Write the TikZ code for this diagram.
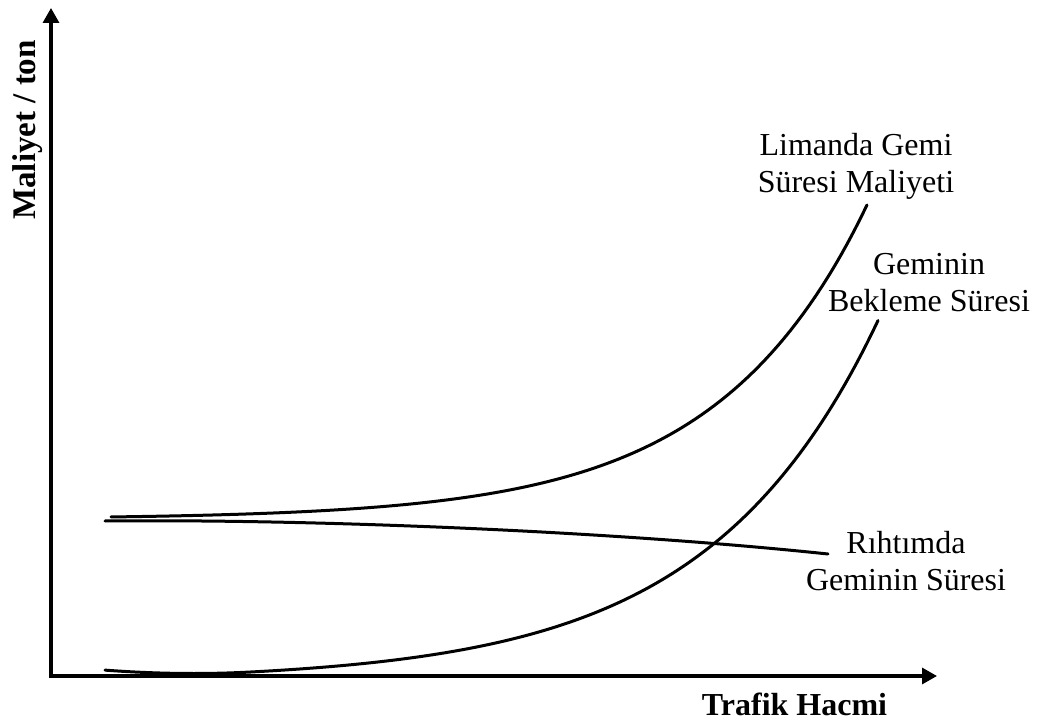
\documentclass[tikz,border=0pt]{standalone}
\usepackage{fontspec}
\setmainfont{Liberation Serif}
\usetikzlibrary{arrows.meta}
\begin{document}
\begin{tikzpicture}[x=1pt,y=-1pt,
  axisline/.style={line width=3.2pt,line join=miter,
    {Triangle[length=15pt,width=16pt]}-{Triangle[length=15pt,width=16pt]}},
  costcurve/.style={line width=3pt,line cap=round},
  curvelabel/.style={align=center,inner sep=0pt,font=\fontsize{32}{37}\selectfont},
  axislabel/.style={inner sep=0pt,font=\fontsize{32}{37}\selectfont\bfseries}]
  \useasboundingbox (0,0) rectangle (1045,722);

  % axes
  \coordinate (ytip) at (51,8);
  \coordinate (origin) at (51,676);
  \coordinate (xtip) at (937,676);
  \draw[axisline] (ytip) -- (origin) -- (xtip);

  \node[axislabel,font=\fontsize{33}{38}\selectfont\bfseries,rotate=90,anchor=base]
    (ylab) at (35,130) {Maliyet / ton};
  \node[axislabel,anchor=base] (xlab) at (794.5,715) {Trafik Hacmi};

  % total cost of ship time in port (exponential growth)
  \draw[costcurve] plot[domain=111:867,samples=120]
    (\x,{519-0.97*exp(\x/150)});

  % berth time of the ship (slowly falling)
  \draw[costcurve] (105,521) .. controls (300,519) and (600,530) .. (828,554);

  % waiting time of the ship (slight dip, then exponential growth)
  \draw[costcurve] plot[domain=105:878,samples=140]
    (\x,{681-2.06*exp(\x/170)-0.000342*max(250-\x,0)*max(250-\x,0)});

  \node[curvelabel] (lgs) at (856,166) {Limanda Gemi\\Süresi Maliyeti};
  \node[curvelabel] (gbs) at (929,283) {Geminin\\Bekleme Süresi};
  \node[curvelabel] (rgs) at (906,561) {Rıhtımda\\Geminin Süresi};
\end{tikzpicture}
\end{document}
